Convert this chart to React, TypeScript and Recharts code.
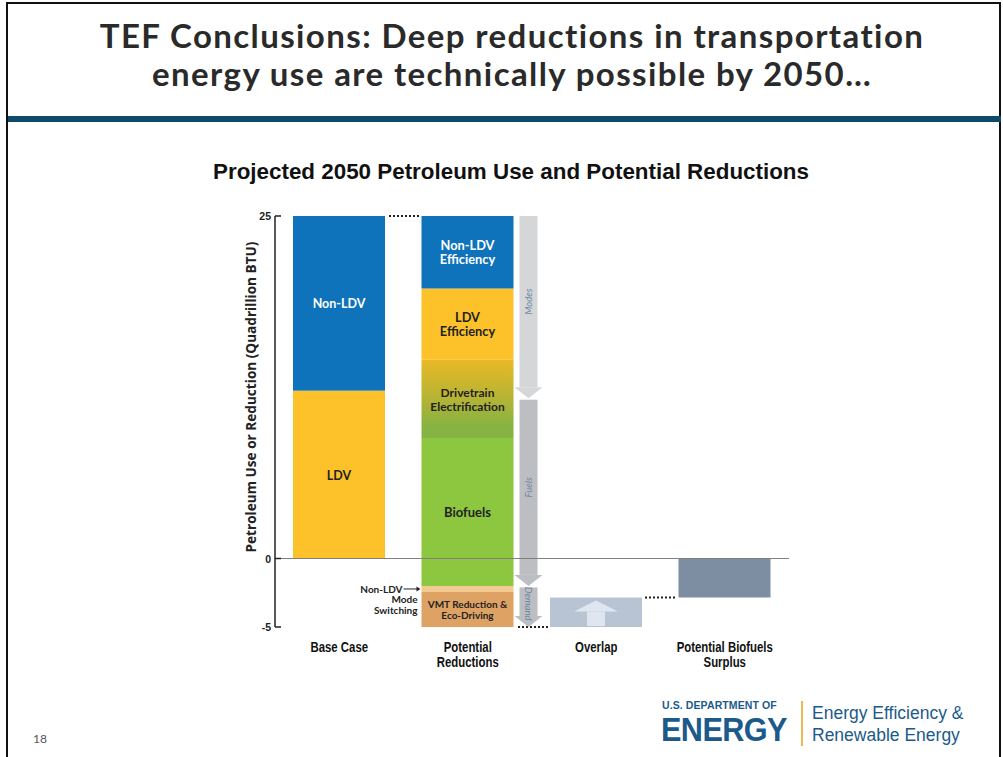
import React from 'react';
import { BarChart, Bar, XAxis, YAxis, ReferenceLine } from 'recharts';

const categories = ['Base Case', 'Potential Reductions', 'Overlap', 'Potential Biofuels Surplus'];
const categoryLines: Record<string, string[]> = {
  'Base Case': ['Base Case'],
  'Potential Reductions': ['Potential', 'Reductions'],
  Overlap: ['Overlap'],
  'Potential Biofuels Surplus': ['Potential Biofuels', 'Surplus'],
};

// quadrillion BTU, one entry per category
const ldv = [12.25, 0, 0, 0];
const nonLdv = [12.75, 0, 0, 0];
const biofuelsAbove = [0, 8.8, 0, 0];
const drivetrain = [0, 5.7, 0, 0];
const ldvEfficiency = [0, 5.2, 0, 0];
const nonLdvEfficiency = [0, 5.3, 0, 0];
const biofuelsBelow = [0, -2.0, 0, 0];
const modeSwitching = [0, -0.45, 0, 0];
const vmtReduction = [0, -2.55, 0, 0];
const overlapOffset = [0, 0, -2.85, 0];
const overlap = [0, 0, -2.15, 0];
const biofuelsSurplus = [0, 0, 0, -2.85];

// the arrow column beside the potential reductions bar
const arrowBreaks = [25, 11.7, -2.0, -5];
const arrowLabels = ['Modes', 'Fuels', 'Demand'];

const yTicks = [-5, 0, 25];

const data = categories.map((name, i) => ({
  name,
  ldv: ldv[i],
  nonLdv: nonLdv[i],
  biofuelsAbove: biofuelsAbove[i],
  drivetrain: drivetrain[i],
  ldvEfficiency: ldvEfficiency[i],
  nonLdvEfficiency: nonLdvEfficiency[i],
  biofuelsBelow: biofuelsBelow[i],
  modeSwitching: modeSwitching[i],
  vmtReduction: vmtReduction[i],
  overlapOffset: overlapOffset[i],
  overlap: overlap[i],
  biofuelsSurplus: biofuelsSurplus[i],
  arrow: i === 1 ? [Math.min(...arrowBreaks), Math.max(...arrowBreaks)] : null,
}));

const BAR_FONT = "Lato, 'Open Sans', sans-serif";
const ARIAL = "'Liberation Sans', Arial, sans-serif";

const box = (p: any) => {
  const top = Math.min(p.y, p.y + p.height);
  return { x: p.x, top, w: p.width, h: Math.abs(p.height) };
};

// biofuels continue below zero: stretch the label span over both parts
const biofuelsSpan = (h: number) => {
  const i = biofuelsAbove.findIndex((v) => v > 0);
  return h + (Math.abs(biofuelsBelow[i]) * h) / biofuelsAbove[i];
};

function centerLabel(lines: string[], color: string, size: number, span?: (h: number) => number) {
  return (p: any) => {
    if (!p.height || Math.abs(p.height) < 1) return null;
    const { x, top, w, h } = box(p);
    const full = span ? span(h) : h;
    const cx = x + w / 2;
    const lh = size * 1.12;
    const y0 = top + full / 2 - ((lines.length - 1) * lh) / 2;
    return (
      <text x={cx} y={y0} textAnchor="middle" dominantBaseline="central" fill={color}
        fontSize={size} fontWeight={700} fontFamily={BAR_FONT}>
        {lines.map((l, i) => (
          <tspan key={i} x={cx} dy={i === 0 ? 0 : lh}>{l}</tspan>
        ))}
      </text>
    );
  };
}

const modeSwitchLabel = (p: any) => {
  if (!p.height || Math.abs(p.height) < 1) return null;
  const { x, top, h } = box(p);
  const cy = top + h / 2;
  const st = { fontSize: 10, fontWeight: 700, fontFamily: BAR_FONT, fill: '#222' };
  return (
    <g>
      <text x={x - 19} y={cy} textAnchor="end" dominantBaseline="central" {...st}>Non-LDV</text>
      <text x={x - 4} y={cy + 10.5} textAnchor="end" dominantBaseline="central" {...st}>Mode</text>
      <text x={x - 4} y={cy + 21} textAnchor="end" dominantBaseline="central" {...st}>Switching</text>
      <line x1={x - 18} x2={x - 4} y1={cy} y2={cy} stroke="#222" strokeWidth={1} />
      <polygon points={`${x - 1},${cy} ${x - 5},${cy - 2.5} ${x - 5},${cy + 2.5}`} fill="#222" />
    </g>
  );
};

const NonLdvShape = (p: any) => {
  if (!p.height || Math.abs(p.height) < 1) return null;
  const { x, top, w, h } = box(p);
  return (
    <g>
      <rect x={x} y={top} width={w} height={h} fill={p.fill} />
      <line x1={x + w + 4} x2={x + w + 36} y1={top} y2={top} stroke="#222" strokeWidth={2} strokeDasharray="2 2" />
    </g>
  );
};

const OverlapShape = (p: any) => {
  if (!p.height || Math.abs(p.height) < 1) return null;
  const { x, top, w, h } = box(p);
  const cx = x + w / 2;
  const bottom = top + h;
  return (
    <g>
      <rect x={x} y={top} width={w} height={h} fill={p.fill} />
      <polygon points={`${cx},${top + 3} ${cx + 22},${top + 14} ${cx - 22},${top + 14}`} fill="#dfe6ef" />
      <rect x={cx - 9} y={top + 14} width={18} height={h - 15} fill="#dfe6ef" />
      <line x1={x - 32} x2={x - 2} y1={bottom} y2={bottom} stroke="#222" strokeWidth={2} strokeDasharray="2 2" />
      <line x1={x + w + 3} x2={x + w + 35} y1={top} y2={top} stroke="#222" strokeWidth={2} strokeDasharray="2 2" />
    </g>
  );
};

const ArrowShape = (p: any) => {
  if (!p.height || Math.abs(p.height) < 1) return null;
  const { x, top, w, h } = box(p);
  const hi = Math.max(...arrowBreaks);
  const lo = Math.min(...arrowBreaks);
  const ppu = h / (hi - lo);
  const pix = (v: number) => top + (hi - v) * ppu;
  const sx = x + w + 6;
  const sw = 18;
  const headH = 11;
  return (
    <g>
      {arrowLabels.map((label, k) => {
        const start = pix(arrowBreaks[k]) + (k > 0 ? 1.5 : 0);
        const end = pix(arrowBreaks[k + 1]);
        const fill = k === 0 ? '#d5d6d8' : '#bdbec1';
        const mid = (start + end - headH) / 2 + (k === 2 ? 2 : 0);
        const lx = sx + sw / 2;
        return (
          <g key={label}>
            <rect x={sx} y={start} width={sw} height={end - headH - start} fill={fill} />
            <polygon points={`${sx - 5},${end - headH} ${sx + sw + 5},${end - headH} ${lx},${end}`} fill={fill} />
            <text x={lx} y={mid} transform={`rotate(${k === 2 ? 90 : -90} ${lx} ${mid})`} textAnchor="middle"
              dominantBaseline="central" fontSize={9.5} fontStyle="italic" fill="#6d87a6" fontFamily={BAR_FONT}>
              {label}
            </text>
          </g>
        );
      })}
    </g>
  );
};

const CategoryTick = (p: any) => {
  const lines = categoryLines[p.payload.value] || [p.payload.value];
  return (
    <text x={p.x} y={p.y + 17} textAnchor="middle" fontSize={15} fontWeight={700} fill="#111" fontFamily={ARIAL}
      transform={`translate(${p.x} 0) scale(0.76 1) translate(${-p.x} 0)`}>
      {lines.map((l, i) => (
        <tspan key={i} x={p.x} dy={i === 0 ? 0 : 15}>{l}</tspan>
      ))}
    </text>
  );
};

const ValueTick = (p: any) => (
  <g>
    <text x={p.x + 1} y={p.y} textAnchor="end" dominantBaseline="central" fontSize={10.5} fontWeight={700} fill="#222"
      fontFamily={ARIAL}>
      {p.payload.value}
    </text>
    <line x1={p.x + 5} x2={p.x + 11} y1={p.y} y2={p.y} stroke="#222" strokeWidth={1.5} />
  </g>
);

const navy = '#1b5a8a';

export default function App() {
  return (
    <div style={{ position: 'absolute', left: 0, top: 0, width: 1003, height: 757, background: '#fff', overflow: 'hidden' }}>
      <div style={{ position: 'absolute', left: 6, top: 2, width: 995, height: 770, border: '2px solid #111', boxSizing: 'border-box' }} />
      <div style={{ position: 'absolute', left: 8, top: 116, width: 993, height: 6, background: '#0f4a6b' }} />
      <div style={{ position: 'absolute', left: 12, top: 16, width: 1000, textAlign: 'center', fontFamily: BAR_FONT,
        fontWeight: 700, fontSize: 33, letterSpacing: 1.4, lineHeight: '38px', color: '#2a2a2a' }}>
        TEF Conclusions: Deep reductions in transportation<br />energy use are technically possible by 2050…
      </div>
      <div style={{ position: 'absolute', left: 161, top: 159, width: 700, textAlign: 'center',
        fontFamily: ARIAL, fontWeight: 700, fontSize: 22.4, color: '#111' }}>
        Projected 2050 Petroleum Use and Potential Reductions
      </div>
      <div style={{ position: 'absolute', left: 251 - 200, top: 397 - 10, width: 400, height: 20, lineHeight: '20px',
        textAlign: 'center', transform: 'rotate(-90deg)', fontFamily: "'Open Sans', sans-serif", fontWeight: 700,
        fontSize: 13.6, color: '#222' }}>
        Petroleum Use or Reduction (Quadrillion BTU)
      </div>

      <div style={{ position: 'absolute', left: 200, top: 190 }}>
        <BarChart width={600} height={500} data={data} stackOffset="sign"
          margin={{ top: 26, right: 11, bottom: 23, left: 35 }}>
          <defs>
            <linearGradient id="drivetrainGrad" x1="0" y1="0" x2="0" y2="1">
              <stop offset="0%" stopColor="#e8b927" />
              <stop offset="45%" stopColor="#bab433" />
              <stop offset="85%" stopColor="#86b342" />
              <stop offset="100%" stopColor="#84b443" />
            </linearGradient>
          </defs>
          <XAxis dataKey="name" axisLine={false} tickLine={false} height={40} interval={0} tick={<CategoryTick />} />
          <XAxis xAxisId="arr" dataKey="name" hide />
          <YAxis domain={[-5, 25]} ticks={yTicks} width={40} tickSize={0} tickMargin={5} tickLine={false}
            axisLine={{ stroke: '#222', strokeWidth: 1.5 }} tick={<ValueTick />} />
          <ReferenceLine y={0} stroke="#808080" strokeWidth={1} />
          <Bar dataKey="ldv" stackId="a" barSize={92} fill="#fdc22a" isAnimationActive={false}
            label={centerLabel(['LDV'], '#222', 12.5)} />
          <Bar dataKey="nonLdv" stackId="a" barSize={92} fill="#0e73bb" isAnimationActive={false} shape={NonLdvShape}
            label={centerLabel(['Non-LDV'], '#fff', 12.5)} />
          <Bar dataKey="biofuelsAbove" stackId="a" barSize={92} fill="#8dc63f" isAnimationActive={false}
            label={centerLabel(['Biofuels'], '#222', 13, biofuelsSpan)} />
          <Bar dataKey="drivetrain" stackId="a" barSize={92} fill="url(#drivetrainGrad)" isAnimationActive={false}
            label={centerLabel(['Drivetrain', 'Electrification'], '#222', 12)} />
          <Bar dataKey="ldvEfficiency" stackId="a" barSize={92} fill="#fdc22a" isAnimationActive={false}
            label={centerLabel(['LDV', 'Efficiency'], '#222', 12.8)} />
          <Bar dataKey="nonLdvEfficiency" stackId="a" barSize={92} fill="#0e73bb" isAnimationActive={false}
            label={centerLabel(['Non-LDV', 'Efficiency'], '#fff', 12.8)} />
          <Bar dataKey="biofuelsBelow" stackId="a" barSize={92} fill="#8dc63f" isAnimationActive={false} />
          <Bar dataKey="modeSwitching" stackId="a" barSize={92} fill="#f0ca90" isAnimationActive={false}
            label={modeSwitchLabel} />
          <Bar dataKey="vmtReduction" stackId="a" barSize={92} fill="#dfa265" isAnimationActive={false}
            label={centerLabel(['VMT Reduction &', 'Eco-Driving'], '#222', 10)} />
          <Bar dataKey="overlapOffset" stackId="a" barSize={92} fill="transparent" isAnimationActive={false} />
          <Bar dataKey="overlap" stackId="a" barSize={92} fill="#b8c4d4" isAnimationActive={false} shape={OverlapShape} />
          <Bar dataKey="biofuelsSurplus" stackId="a" barSize={92} fill="#7d8ea3" isAnimationActive={false} />
          <Bar xAxisId="arr" dataKey={(d: any) => d.arrow} barSize={92} fill="#bdbec1" isAnimationActive={false}
            shape={ArrowShape} />
        </BarChart>
      </div>

      <div style={{ position: 'absolute', left: 33, top: 731, fontFamily: BAR_FONT, fontSize: 12, color: '#555' }}>18</div>

      <div style={{ position: 'absolute', left: 662, top: 699, fontFamily: ARIAL, fontWeight: 700, fontSize: 10.5,
        lineHeight: '12px', letterSpacing: 0.1, color: navy }}>U.S. DEPARTMENT OF</div>
      <div style={{ position: 'absolute', left: 661, top: 716, fontFamily: ARIAL, fontWeight: 700, fontSize: 34,
        lineHeight: '26px', letterSpacing: -0.6, color: navy, transform: 'scaleX(0.9)', transformOrigin: 'left center' }}>
        ENERGY
      </div>
      <div style={{ position: 'absolute', left: 801, top: 701, width: 2, height: 45, background: '#e7bb52' }} />
      <div style={{ position: 'absolute', left: 812, top: 702, fontFamily: ARIAL, fontSize: 17.5, lineHeight: '22px',
        color: navy }}>
        Energy Efficiency &amp;<br />Renewable Energy
      </div>
    </div>
  );
}
